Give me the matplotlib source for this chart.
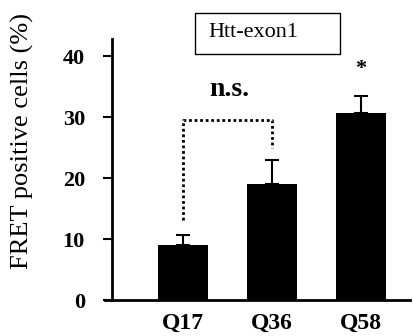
#!/usr/bin/env python3
# FRET positive cells for Htt-exon1 polyQ variants: bar chart with upper SEM bars
import matplotlib
matplotlib.use("Agg")
import matplotlib.pyplot as plt
from matplotlib.patches import Rectangle

groups = ["Q17", "Q36", "Q58"]
fret_pct = [9.0, 19.0, 30.7]
err_up = [1.6, 4.0, 2.7]
yticks = [0, 10, 20, 30, 40]

# bracket for n.s. between Q17 and Q36 (y levels)
ns_left_y, ns_top_y, ns_right_y = 13.1, 29.5, 24.9

plt.rcParams["font.family"] = ["Liberation Serif", "DejaVu Serif"]

fig = plt.figure(figsize=(4.14, 3.36), dpi=100)
ax = fig.add_axes([0.2705, 0.107, 0.72, 0.777])

x = list(range(len(groups)))
ax.bar(x, fret_pct, width=0.56, color="black", zorder=2)
ax.errorbar(x, fret_pct, yerr=[[0] * len(x), err_up], fmt="none",
            ecolor="black", elinewidth=1.5, capsize=5, capthick=1.5, zorder=1)

ax.plot([0, 0, 1, 1], [ns_left_y, ns_top_y, ns_top_y, ns_right_y],
        color="black", lw=2, linestyle=(0, (1, 1)))
ax.text(0.52, 33.4, "n.s.", ha="center", va="baseline", fontsize=20, fontweight="bold")
ax.text(2, 37.0, "*", ha="center", va="baseline", fontsize=16, fontweight="bold")

ax.set_xlim(-0.8, 2.55)
ax.set_ylim(0, 42.8)
ax.set_yticks(yticks)
ax.set_xticks(x)
ax.set_xticklabels(groups, fontsize=17, fontweight="bold")
ax.tick_params(axis="x", length=0, pad=9)
ax.tick_params(axis="y", length=6.5, width=1.5, direction="out", pad=13)
for lab in ax.get_yticklabels():
    lab.set_fontsize(16)
    lab.set_fontweight("bold")

for s in ["top", "right"]:
    ax.spines[s].set_visible(False)
ax.spines["left"].set_linewidth(2)
ax.spines["bottom"].set_linewidth(2)
ax.spines["bottom"].set_bounds(-0.88, 2.55)
ax.spines["bottom"].set_clip_on(False)

ax.set_ylabel("FRET positive cells (%)", fontsize=19)
ax.yaxis.set_label_coords(-0.262, 0.61)

# legend-like box with the construct name
fig.patches.append(Rectangle((0.471, 0.839), 0.350, 0.122, transform=fig.transFigure,
                             fill=False, ec="black", lw=1))
fig.text(0.503, 0.902, "Htt-exon1", ha="left", va="center", fontsize=16)

fig.savefig("out.png", dpi=100)
